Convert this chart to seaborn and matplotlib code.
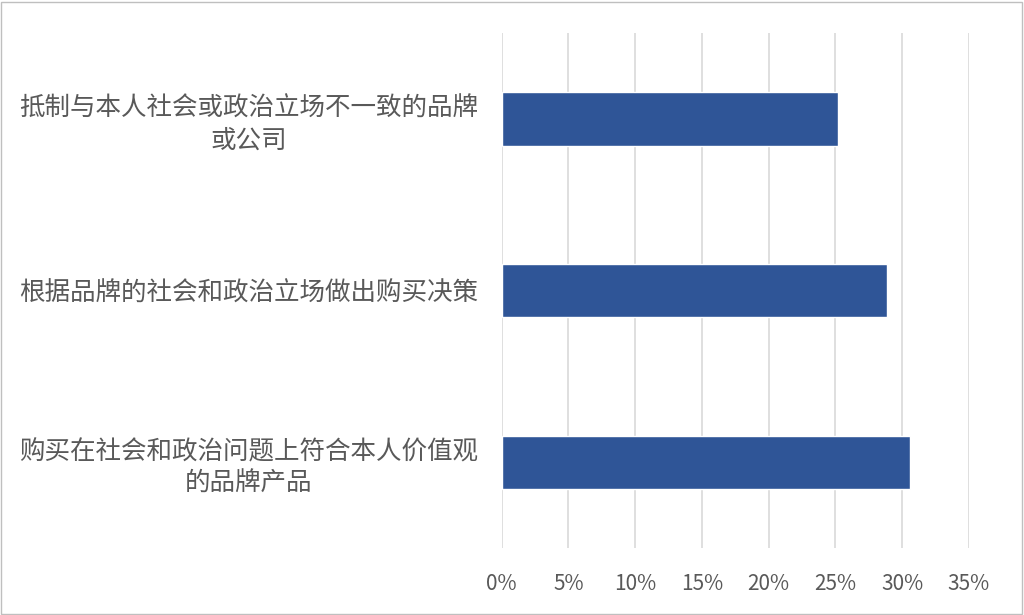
import matplotlib
matplotlib.use("Agg")
import matplotlib.pyplot as plt
import seaborn as sns
import pandas as pd
from matplotlib.ticker import PercentFormatter
from matplotlib.patches import Rectangle

# ==============================
#            DATA
# ==============================
categories = [
    "抵制与本人社会或政治立场不一致的品牌\n或公司",
    "根据品牌的社会和政治立场做出购买决策",
    "购买在社会和政治问题上符合本人价值观\n的品牌产品",
]
shares = [0.252, 0.289, 0.306]
x_ticks = [0, 0.05, 0.10, 0.15, 0.20, 0.25, 0.30, 0.35]
# ==============================

BAR_COLOR = "#2F5597"
TEXT_COLOR = "#595959"
GRID_COLOR = "#D9D9D9"

sns.set_theme(style="white")
plt.rcParams["font.family"] = ["Noto Sans CJK SC", "DejaVu Sans"]

df = pd.DataFrame({"category": categories, "share": shares})

fig = plt.figure(figsize=(10.24, 6.15), dpi=100)
ax = fig.add_axes([0.490, 0.109, 0.456, 0.837])

sns.barplot(data=df, x="share", y="category", orient="h",
            color=BAR_COLOR, width=0.31, saturation=1, ax=ax)

ax.set_xlim(0, 0.35)
ax.set_ylim(2.5, -0.5)
ax.set_xticks(x_ticks)
ax.xaxis.set_major_formatter(PercentFormatter(1.0, decimals=0))
ax.grid(axis="x", color=GRID_COLOR, linewidth=1.2)
ax.set_axisbelow(True)
for s in ax.spines.values():
    s.set_visible(False)

ax.set_xlabel("")
ax.set_ylabel("")
ax.tick_params(axis="x", length=0, pad=18, labelsize=15, labelcolor=TEXT_COLOR)
ax.tick_params(axis="y", length=0, pad=17, labelsize=18.4, labelcolor=TEXT_COLOR)
for lbl in ax.get_yticklabels():
    lbl.set_multialignment("center")
    lbl.set_linespacing(1.3)

# light frame round the whole chart
fig.patches.append(Rectangle((0.001, 0.002), 0.997, 0.995, transform=fig.transFigure,
                             fill=False, edgecolor="#BFBFBF", linewidth=1))

fig.savefig("out.png", dpi=100)
